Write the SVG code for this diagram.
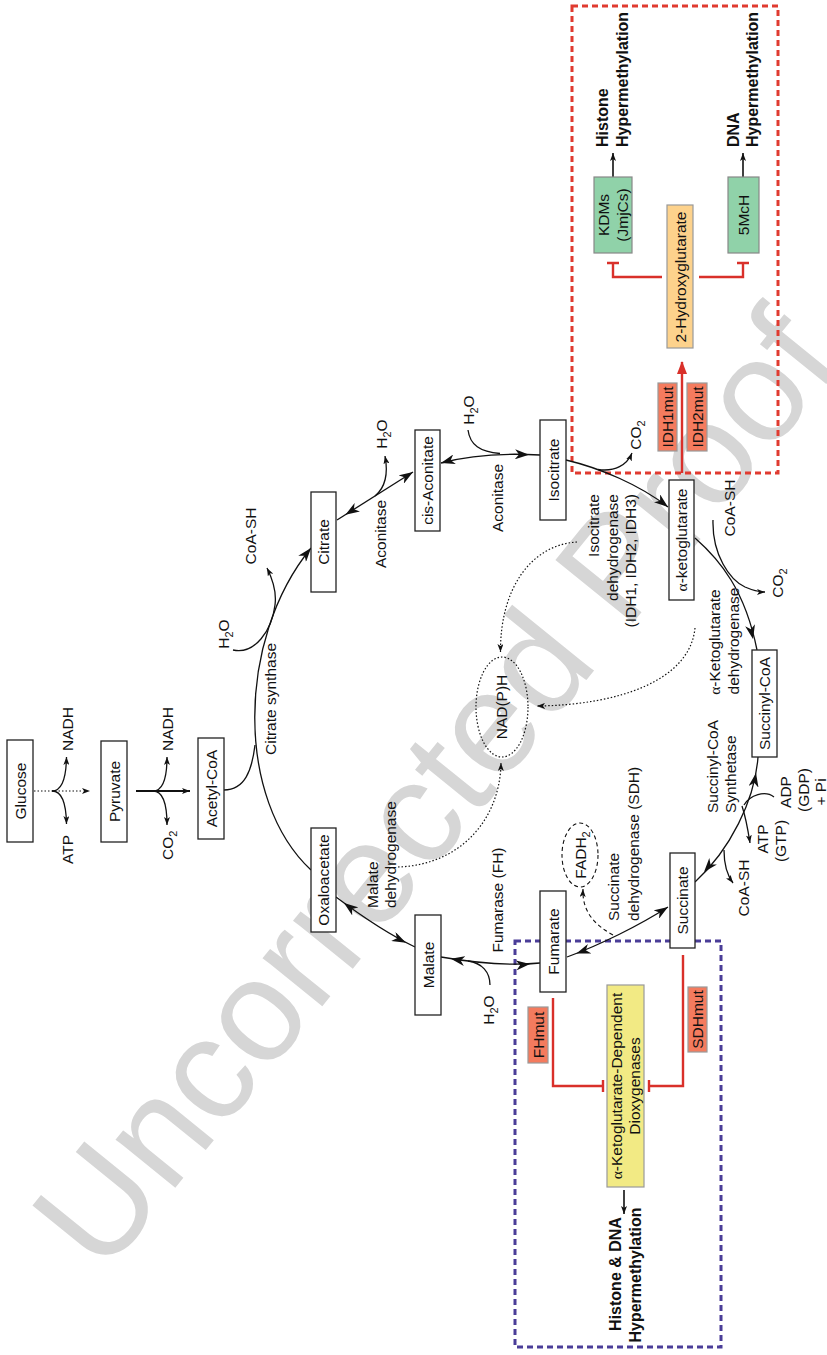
<svg xmlns="http://www.w3.org/2000/svg" width="827" height="1355" viewBox="0 0 827 1355">
<style>
.t{font-family:"Liberation Sans",Arial,sans-serif;font-size:15.5px;fill:#111}
.b{font-weight:bold;font-size:16px}
.g{font-family:"Liberation Serif","Times New Roman",serif}
.box{fill:#fff;stroke:#222;stroke-width:1.3}
.ln{fill:none;stroke:#111;stroke-width:1.3}
.dot{fill:none;stroke:#111;stroke-width:1.2;stroke-dasharray:1.5 2}
.dash{fill:none;stroke:#111;stroke-width:1.1;stroke-dasharray:4 3}
.red{fill:none;stroke:#d9302a;stroke-width:2.4}
.mut{fill:#f47b5e;stroke:#999;stroke-width:1.2}
.wm{font-family:"Liberation Sans",Arial,sans-serif;font-size:145px;fill:#d6d6d6}
</style>
<defs>
<marker id="big" viewBox="0 0 14 10" markerWidth="14" markerHeight="10" refX="14" refY="5" orient="auto-start-reverse" markerUnits="userSpaceOnUse"><path d="M0,0 L14,5 L0,10 L4,5 z" fill="#111"/></marker>
<marker id="bigg" viewBox="0 0 14 10" markerWidth="14" markerHeight="10" refX="24" refY="5" orient="auto-start-reverse" markerUnits="userSpaceOnUse"><path d="M0,0 L14,5 L0,10 L4,5 z" fill="#111"/></marker>
<marker id="sm" viewBox="0 0 8 6" markerWidth="8" markerHeight="6" refX="8" refY="3" orient="auto" markerUnits="userSpaceOnUse"><path d="M0,0 L8,3 L0,6 L2,3 z" fill="#111"/></marker>
<marker id="redh" viewBox="0 0 13 10" markerWidth="13" markerHeight="10" refX="12" refY="5" orient="auto" markerUnits="userSpaceOnUse"><path d="M0,0 L13,5 L0,10 z" fill="#d9302a"/></marker>
</defs>
<rect width="827" height="1355" fill="#fff"/>
<text class="wm" transform="translate(103,1277) rotate(-51)">Uncorrected Proof</text>

<g id="regions">
<rect x="572" y="6" width="206" height="467" fill="none" stroke="#e03b30" stroke-width="3" stroke-dasharray="6 4"/>
<rect x="515" y="941" width="206" height="406" fill="none" stroke="#4a3d98" stroke-width="3" stroke-dasharray="6 4"/>
</g>

<g id="connectors">
<path class="dot" d="M34,791 L82,791"/>
<path d="M82,788 L90,791 L82,794 L84,791 z" fill="#111"/>
<path class="ln" d="M52,791 Q66,791 66.5,757" marker-end="url(#sm)"/>
<path class="ln" d="M52,791 Q66,791 66.5,824" marker-end="url(#sm)"/>
<path class="ln" style="stroke-width:2.2" d="M136,791 L190,791" marker-end="url(#sm)"/>
<path class="ln" d="M153,791 Q167,791 167,757" marker-end="url(#sm)"/>
<path class="ln" d="M153,791 Q167,791 167,825" marker-end="url(#sm)"/>
<path class="ln" d="M224,790 C245,790 252,770 255,745"/>
<path class="ln" d="M311,870 C236,800 236,640 311,548" marker-end="url(#big)"/>
<path class="ln" d="M233,650 C255,655 272,630 275,605 C277,590 272,578 267,568" marker-end="url(#sm)"/>
<path class="ln" d="M337,520 L413,472" marker-start="url(#bigg)" marker-end="url(#big)"/>
<path class="ln" d="M375,496 C386,487 388,472 385,456" marker-end="url(#sm)"/>
<path class="ln" d="M441,463 C470,455 505,453 540,455" marker-start="url(#big)"/>
<path d="M515,454.3 L529,454.8" stroke="none" marker-end="url(#big)"/>
<path class="ln" d="M468,430 C470,445 480,452 500,453.5"/>
<path class="ln" d="M566,460 C600,468 640,485 668,507" marker-end="url(#big)"/>
<path class="ln" d="M598,469.5 C615,472 627,465 632,453" marker-end="url(#sm)"/>
<path class="ln" d="M695,538 C720,560 745,590 757,650"/>
<path d="M750,625 L753,639" stroke="none" marker-end="url(#big)"/>
<path class="ln" d="M713,520 C712,555 730,580 745,587 C752,590 758,592 765,592" marker-end="url(#sm)"/>
<path class="ln" d="M758,757 C755,800 730,850 695,882"/>
<path d="M753,790 L756,773" stroke="none" marker-end="url(#big)"/>
<path d="M716,858 L704,872" stroke="none" marker-end="url(#big)"/>
<path class="ln" d="M774,797 C765,790 750,795 744,805"/>
<path class="ln" d="M742,806 C745,815 748,830 750,843" marker-end="url(#sm)"/>
<path class="ln" d="M724,850 C724,862 727,875 733,883" marker-end="url(#sm)"/>
<path class="ln" d="M668,907 C640,925 600,945 567,957" marker-start="url(#big)" marker-end="url(#bigg)"/>
<path class="dash" d="M613,935 C595,925 582,912 583,889" marker-end="url(#sm)"/>
<path class="ln" d="M540,963 C510,966 470,962 441,957" marker-start="url(#bigg)" marker-end="url(#bigg)"/>
<path class="ln" d="M490,985 C490,972 482,963 468,961"/>
<path class="ln" d="M336,897 C360,915 390,935 415,947" marker-start="url(#bigg)" marker-end="url(#bigg)"/>
<path class="dot" d="M577,542 C530,545 500,590 500.5,652" marker-end="url(#sm)"/>
<path class="dot" d="M695,628 C690,680 620,705 537,706" marker-end="url(#sm)"/>
<path class="dot" d="M398,867 C460,865 500,820 501,763" marker-end="url(#sm)"/>
<path class="red" d="M682,473 L682,362" marker-end="url(#redh)"/>
<path class="red" d="M662,277 L613,277 L613,263 M607,263 L619,263"/>
<path class="red" d="M699,277 L743,277 L743,263 M737,263 L749,263"/>
<path class="ln" style="stroke-width:1.6" d="M613,177 L613,153" marker-end="url(#sm)"/>
<path class="ln" style="stroke-width:1.6" d="M743,177 L743,153" marker-end="url(#sm)"/>
<path class="red" d="M553,998 L553,1086 L603,1086 M603,1080 L603,1092"/>
<path class="red" d="M683,955 L683,1086 L649,1086 M649,1080 L649,1092"/>
<path class="ln" style="stroke-width:1.6" d="M624,1190 L624,1214" marker-end="url(#sm)"/>
</g>

<g id="n-glucose"><rect class="box" x="7" y="740" width="26" height="102"/><text class="t" text-anchor="middle" transform="translate(25.5,791) rotate(-90)">Glucose</text></g>
<g id="n-pyruvate"><rect class="box" x="101" y="741" width="26" height="101"/><text class="t" text-anchor="middle" transform="translate(119.5,791.5) rotate(-90)">Pyruvate</text></g>
<g id="n-acetylcoa"><rect class="box" x="198" y="738" width="26" height="101"/><text class="t" text-anchor="middle" transform="translate(216.5,788.5) rotate(-90)">Acetyl-CoA</text></g>
<g id="n-citrate"><rect class="box" x="311" y="492" width="25" height="100"/><text class="t" text-anchor="middle" transform="translate(329,542) rotate(-90)">Citrate</text></g>
<g id="n-cisaconitate"><rect class="box" x="415" y="430" width="25" height="101"/><text class="t" text-anchor="middle" transform="translate(433,480.5) rotate(-90)">cis-Aconitate</text></g>
<g id="n-isocitrate"><rect class="box" x="540" y="420" width="26" height="100"/><text class="t" text-anchor="middle" transform="translate(558.5,470) rotate(-90)">Isocitrate</text></g>
<g id="n-akg"><rect class="box" x="669" y="480" width="25" height="120"/><text class="t" text-anchor="middle" transform="translate(687,540) rotate(-90)"><tspan class="g">α</tspan>-ketoglutarate</text></g>
<g id="n-succinylcoa"><rect class="box" x="752" y="650" width="25" height="107"/><text class="t" text-anchor="middle" transform="translate(770,703.5) rotate(-90)">Succinyl-CoA</text></g>
<g id="n-succinate"><rect class="box" x="670" y="853" width="25" height="95"/><text class="t" text-anchor="middle" transform="translate(688,900.5) rotate(-90)">Succinate</text></g>
<g id="n-fumarate"><rect class="box" x="540" y="891" width="26" height="101"/><text class="t" text-anchor="middle" transform="translate(558.5,941.5) rotate(-90)">Fumarate</text></g>
<g id="n-malate"><rect class="box" x="415" y="915" width="26" height="100"/><text class="t" text-anchor="middle" transform="translate(433.5,965) rotate(-90)">Malate</text></g>
<g id="n-oxaloacetate"><rect class="box" x="311" y="828" width="25" height="104"/><text class="t" text-anchor="middle" transform="translate(329,880) rotate(-90)">Oxaloacetate</text></g>
<g id="n-nadph"><ellipse cx="502" cy="707" rx="26" ry="50" class="dot"/><text class="t" text-anchor="middle" transform="translate(507,707) rotate(-90)">NAD(P)H</text></g>
<g id="n-fadh2"><ellipse cx="580" cy="855" rx="18" ry="32" class="dash"/><text class="t" text-anchor="middle" transform="translate(585.5,855) rotate(-90)">FADH<tspan font-size="11" dy="4">2</tspan></text></g>

<g id="labels">
<text class="t" transform="translate(72.5,751) rotate(-90)">NADH</text>
<text class="t" transform="translate(72.5,864) rotate(-90)">ATP</text>
<text class="t" transform="translate(172.5,751) rotate(-90)">NADH</text>
<text class="t" transform="translate(172.5,860) rotate(-90)">CO<tspan font-size="11" dy="4">2</tspan></text>
<text class="t" text-anchor="middle" transform="translate(255.5,536) rotate(-90)">CoA-SH</text>
<text class="t" text-anchor="middle" transform="translate(228.5,634) rotate(-90)">H<tspan font-size="11" dy="4">2</tspan><tspan dy="-4">O</tspan></text>
<text class="t" text-anchor="middle" transform="translate(275.5,699) rotate(-90)">Citrate synthase</text>
<text class="t" text-anchor="middle" transform="translate(386.5,434) rotate(-90)">H<tspan font-size="11" dy="4">2</tspan><tspan dy="-4">O</tspan></text>
<text class="t" text-anchor="middle" transform="translate(385.5,534) rotate(-90)">Aconitase</text>
<text class="t" text-anchor="middle" transform="translate(473.5,410) rotate(-90)">H<tspan font-size="11" dy="4">2</tspan><tspan dy="-4">O</tspan></text>
<text class="t" text-anchor="middle" transform="translate(502.5,498) rotate(-90)">Aconitase</text>
<text class="t" text-anchor="middle" transform="translate(640.5,435) rotate(-90)">CO<tspan font-size="11" dy="4">2</tspan></text>
<text class="t" text-anchor="end" transform="translate(598.5,494) rotate(-90)">Isocitrate</text>
<text class="t" text-anchor="end" transform="translate(617.5,494) rotate(-90)">dehydrogenase</text>
<text class="t" text-anchor="end" transform="translate(635.5,494) rotate(-90)">(IDH1, IDH2, IDH3)</text>
<text class="t" text-anchor="middle" transform="translate(719.5,642) rotate(-90)"><tspan class="g">α</tspan>-Ketoglutarate</text>
<text class="t" text-anchor="middle" transform="translate(738.5,641) rotate(-90)">dehydrogenase</text>
<text class="t" text-anchor="middle" transform="translate(734.5,508) rotate(-90)">CoA-SH</text>
<text class="t" text-anchor="middle" transform="translate(782.5,583) rotate(-90)">CO<tspan font-size="11" dy="4">2</tspan></text>
<text class="t" transform="translate(717.5,813) rotate(-90)">Succinyl-CoA</text>
<text class="t" transform="translate(735.5,813) rotate(-90)">Synthetase</text>
<text class="t" text-anchor="middle" transform="translate(790.5,792) rotate(-90)">ADP</text>
<text class="t" text-anchor="middle" transform="translate(808.5,790) rotate(-90)">(GDP)</text>
<text class="t" text-anchor="middle" transform="translate(825.5,792) rotate(-90)">+ Pi</text>
<text class="t" text-anchor="middle" transform="translate(767.5,839) rotate(-90)">ATP</text>
<text class="t" text-anchor="middle" transform="translate(785.5,841) rotate(-90)">(GTP)</text>
<text class="t" text-anchor="middle" transform="translate(748.5,888) rotate(-90)">CoA-SH</text>
<text class="t" transform="translate(618.5,921) rotate(-90)">Succinate</text>
<text class="t" transform="translate(638.5,921) rotate(-90)">dehydrogenase (SDH)</text>
<text class="t" text-anchor="middle" transform="translate(502.5,900) rotate(-90)">Fumarase (FH)</text>
<text class="t" text-anchor="middle" transform="translate(493.5,1010) rotate(-90)">H<tspan font-size="11" dy="4">2</tspan><tspan dy="-4">O</tspan></text>
<text class="t" transform="translate(377.5,908) rotate(-90)">Malate</text>
<text class="t" transform="translate(395.5,908) rotate(-90)">dehydrogenase</text>
</g>

<g id="n-idh1mut"><rect class="mut" x="658" y="383" width="19" height="68"/><text class="t" text-anchor="middle" transform="translate(673,417) rotate(-90)">IDH1mut</text></g>
<g id="n-idh2mut"><rect class="mut" x="687" y="383" width="20" height="68"/><text class="t" text-anchor="middle" transform="translate(702.5,417) rotate(-90)">IDH2mut</text></g>
<g id="n-2hg"><rect x="667" y="205" width="26" height="143" fill="#fdd28c" stroke="#999" stroke-width="1.2"/><text class="t" text-anchor="middle" transform="translate(685.5,277) rotate(-90)">2-Hydroxyglutarate</text></g>
<g id="n-kdms"><rect x="594" y="177" width="38" height="76" fill="#90d2a9" stroke="#888" stroke-width="1.2"/><text class="t" text-anchor="middle" transform="translate(609,215) rotate(-90)">KDMs</text><text class="t" text-anchor="middle" transform="translate(627.5,215) rotate(-90)">(JmjCs)</text></g>
<g id="n-5mch"><rect x="728" y="177" width="31" height="76" fill="#90d2a9" stroke="#888" stroke-width="1.2"/><text class="t" text-anchor="middle" transform="translate(749,215) rotate(-90)">5McH</text></g>
<g id="n-histone-hyper"><text class="t b" transform="translate(607.5,147) rotate(-90)">Histone</text><text class="t b" transform="translate(627.5,147) rotate(-90)">Hypermethylation</text></g>
<g id="n-dna-hyper"><text class="t b" transform="translate(738.5,147) rotate(-90)">DNA</text><text class="t b" transform="translate(757.5,147) rotate(-90)">Hypermethylation</text></g>

<g id="n-fhmut"><rect class="mut" x="528" y="1007" width="20" height="56"/><text class="t" text-anchor="middle" transform="translate(543.5,1035) rotate(-90)">FHmut</text></g>
<g id="n-sdhmut"><rect class="mut" x="688" y="987" width="19" height="65"/><text class="t" text-anchor="middle" transform="translate(703,1019.5) rotate(-90)">SDHmut</text></g>
<g id="n-akgdd"><rect x="607" y="985" width="37" height="202" fill="#f2ea84" stroke="#999" stroke-width="1.2"/><text class="t" text-anchor="middle" transform="translate(621.5,1086) rotate(-90)"><tspan class="g">α</tspan>-Ketoglutarate-Dependent</text><text class="t" text-anchor="middle" transform="translate(639.5,1086) rotate(-90)">Dioxygenases</text></g>
<g id="n-hd-hyper"><text class="t b" text-anchor="middle" transform="translate(620.5,1274) rotate(-90)">Histone &amp; DNA</text><text class="t b" text-anchor="middle" transform="translate(640.5,1275) rotate(-90)">Hypermethylation</text></g>
</svg>
